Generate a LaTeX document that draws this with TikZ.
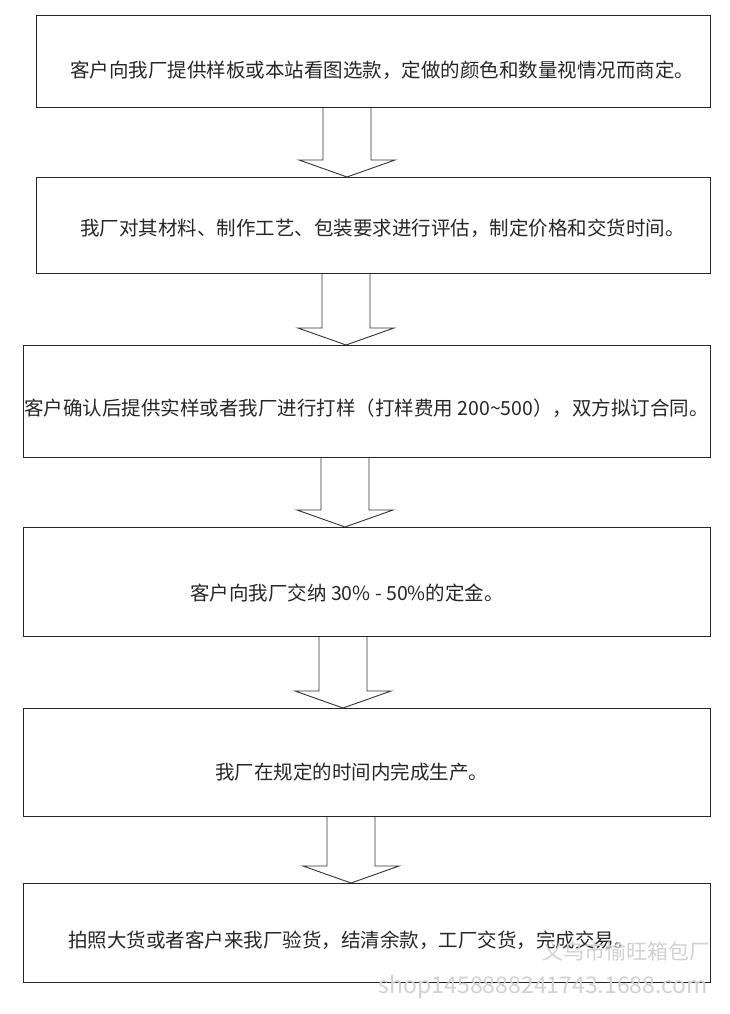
\documentclass[tikz,border=0pt]{standalone}
\usepackage{fontspec}
\setmainfont{Noto Sans CJK SC}
\usepackage{tikz}
\usetikzlibrary{calc}

% hollow down arrow between two boxes, centred at x = #3
\newcommand{\blockarrow}[3]{%
  \coordinate (ax) at (#3,0);
  \coordinate (atop) at (#1.south -| ax);
  \coordinate (atip) at (#2.north -| ax);
  \draw[flowarrow] ($(atop)+(-24,0)$) -- ($(atip)+(-24,-17)$) -- ($(atip)+(-48,-17)$)
    -- (atip) -- ($(atip)+(48,-17)$) -- ($(atip)+(24,-17)$) -- ($(atop)+(24,0)$);
}

\begin{document}
\begin{tikzpicture}[x=1pt, y=-1pt,
  stepbox/.style={draw=black!85, line width=1.2pt, anchor=north west, inner sep=0pt},
  steptext/.style={anchor=west, inner sep=0pt, text=black!85, font=\fontsize{19.5}{22}\selectfont},
  flowarrow/.style={draw=black!80, line width=0.9pt, line join=miter},
  wmark/.style={anchor=east, inner sep=0pt, text=black!18}]
  \useasboundingbox (0,0) rectangle (730,1014);
  % boxes
  \node[stepbox, minimum width=674pt, minimum height=92pt] (s1) at (36,15) {};
  \node[stepbox, minimum width=674pt, minimum height=96pt] (s2) at (36,177) {};
  \node[stepbox, minimum width=687pt, minimum height=112pt] (s3) at (23,345) {};
  \node[stepbox, minimum width=687pt, minimum height=109pt] (s4) at (23,527) {};
  \node[stepbox, minimum width=687pt, minimum height=108pt] (s5) at (23,708) {};
  \node[stepbox, minimum width=687pt, minimum height=99pt] (s6) at (23,883) {};
  % texts
  \node[steptext] (t1) at (70,70) {客户向我厂提供样板或本站看图选款，定做的颜色和数量视情况而商定。};
  \node[steptext] (t2) at (80,228) {我厂对其材料、制作工艺、包装要求进行评估，制定价格和交货时间。};
  \node[steptext] (t3) at (24,408) {客户确认后提供实样或者我厂进行打样（打样费用 200\textasciitilde500），双方拟订合同。};
  \node[steptext] (t4) at (190,593) {客户向我厂交纳 30\% - 50\%的定金。};
  \node[steptext] (t5) at (215,772) {我厂在规定的时间内完成生产。};
  \node[steptext] (t6) at (68,940) {拍照大货或者客户来我厂验货，结清余款，工厂交货，完成交易。};
  % arrows
  \blockarrow{s1}{s2}{347}
  \blockarrow{s2}{s3}{346}
  \blockarrow{s3}{s4}{345}
  \blockarrow{s4}{s5}{343}
  \blockarrow{s5}{s6}{351}
  % watermark
  \node[wmark, font=\fontsize{21}{24}\selectfont] (w1) at (711,951) {义乌市愉旺箱包厂};
  \node[wmark, font=\fontsize{23}{26}\selectfont] (w2) at (708,987) {shop1458888241743.1688.com};
\end{tikzpicture}
\end{document}
